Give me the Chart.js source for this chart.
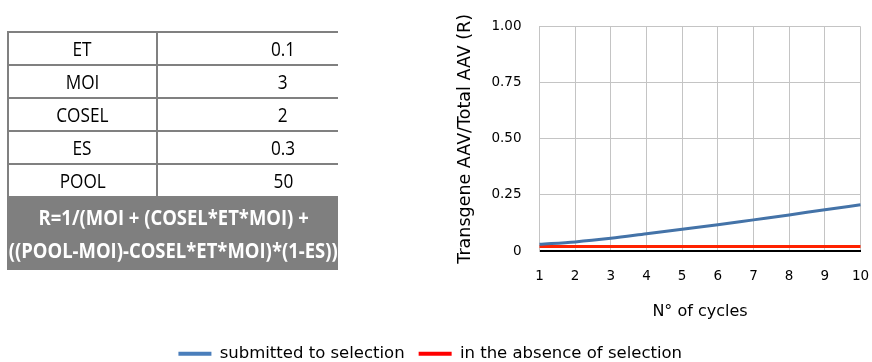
<!DOCTYPE html>
<html>
<head>
<meta charset="utf-8">
<script src="https://cdn.jsdelivr.net/npm/chart.js@4/dist/chart.umd.min.js"></script>
<style>
  html, body { margin: 0; padding: 0; background: #ffffff; }
  #wrap { position: relative; width: 872px; height: 362px; overflow: hidden; }
  #chart { position: absolute; left: 0; top: 0; }
  #params {
    position: absolute; left: 7px; top: 31px; width: 331px;
    border-collapse: collapse; table-layout: fixed;
    font-family: "Open Sans", "Noto Sans", sans-serif;
    font-size: 20px; color: #000;
  }
  #params td {
    border-top: 2px solid #808080; border-bottom: 2px solid #808080;
    height: 31px; padding: 0; text-align: center; line-height: 31px; white-space: nowrap;
  }
  #params td.k { border-left: 2px solid #808080; border-right: 2px solid #808080; width: 147px; }
  #params td.v { padding-left: 70px; }
  #params td.f {
    background: #7f7f7f; color: #fff; font-weight: bold; font-size: 21px;
    line-height: 33.3px; height: 71.7px; border: none; border-left: 2px solid #7f7f7f;
  }
  #params span { display: inline-block; transform: scaleX(0.86); }
  #params .fl { display: flex; justify-content: center; width: 100%; }
</style>
</head>
<body>
<div id="wrap">
  <canvas id="chart" width="872" height="362"></canvas>
  <table id="params"></table>
</div>
<script>
// Model parameters listed in the side table
const paramNames = ['ET', 'MOI', 'COSEL', 'ES', 'POOL'];
const paramValues = ['0.1', '3', '2', '0.3', '50'];
const formulaLines = ['R=1/(MOI + (COSEL*ET*MOI) +', '((POOL-MOI)-COSEL*ET*MOI)*(1-ES))'];

// Chart data
const cycles = ['1', '2', '3', '4', '5', '6', '7', '8', '9', '10'];
const withSelection = [0.030, 0.041, 0.057, 0.077, 0.097, 0.117, 0.139, 0.161, 0.184, 0.206];
const withoutSelection = [0.02, 0.02, 0.02, 0.02, 0.02, 0.02, 0.02, 0.02, 0.02, 0.02];
const yTicks = [0, 0.25, 0.5, 0.75, 1];
const seriesNames = ['submitted to selection', 'in the absence of selection'];

// Build the parameter table
const table = document.getElementById('params');
function cell(cls, text) {
  const td = document.createElement('td');
  td.className = cls;
  const s = document.createElement('span');
  s.textContent = text;
  td.appendChild(s);
  return td;
}
paramNames.forEach((name, i) => {
  const tr = document.createElement('tr');
  tr.appendChild(cell('k', name));
  tr.appendChild(cell('v', paramValues[i]));
  table.appendChild(tr);
});
const fr = document.createElement('tr');
const fc = document.createElement('td');
fc.className = 'f'; fc.colSpan = 2;
const spans = formulaLines.map(line => {
  const row = document.createElement('div');
  row.className = 'fl';
  const s = document.createElement('span');
  s.style.flex = '0 0 auto';
  s.textContent = line;
  row.appendChild(s);
  fc.appendChild(row);
  return s;
});
fr.appendChild(fc); table.appendChild(fr);
// squeeze the formula so its longer line fills the cell width
const widest = Math.max(...spans.map(s => s.getBoundingClientRect().width / 0.86));
const squeeze = 329 / widest;
spans.forEach(s => { s.style.transform = 'scaleX(' + squeeze + ')'; });

const txt = "'DejaVu Sans', Verdana, sans-serif";

new Chart(document.getElementById('chart'), {
  type: 'line',
  data: {
    labels: cycles,
    datasets: [
      { label: seriesNames[0], data: withSelection, borderColor: '#4473a8', backgroundColor: '#4a7ebb',
        borderWidth: 3, pointRadius: 0, cubicInterpolationMode: 'monotone', fill: false },
      { label: seriesNames[1], data: withoutSelection, borderColor: '#ff2200', backgroundColor: '#ff0000',
        borderWidth: 3, pointRadius: 0, tension: 0, fill: false }
    ]
  },
  options: {
    responsive: false,
    animation: false,
    layout: { padding: { top: 26.5, right: 11.5, bottom: -10, left: 0 } },
    plugins: {
      tooltip: { enabled: false },
      legend: {
        position: 'bottom',
        labels: {
          boxWidth: 33, boxHeight: 4, padding: 14, color: '#000',
          font: { family: txt, size: 16.5 },
          generateLabels(chart) {
            return chart.data.datasets.map((ds, i) => ({
              text: ds.label, fillStyle: ds.backgroundColor, strokeStyle: ds.backgroundColor,
              lineWidth: 0, hidden: false, datasetIndex: i
            }));
          }
        }
      }
    },
    scales: {
      x: {
        offset: false,
        grid: { color: '#c4c4c4', lineWidth: 1, drawTicks: true, tickLength: 17, tickColor: 'rgba(0,0,0,0)' },
        border: { color: '#000000', width: 2 },
        ticks: { color: '#000', padding: 0, font: { family: txt, size: 13.5 }, maxRotation: 0 },
        title: { display: true, text: 'N° of cycles', color: '#000',
          font: { family: txt, size: 16 }, padding: { top: 18, bottom: 10 } }
      },
      y: {
        min: 0, max: 1,
        afterBuildTicks(scale) { scale.ticks = yTicks.map(v => ({ value: v })); },
        afterFit(scale) { scale.width = 539.5; },
        grid: { color: '#c4c4c4', lineWidth: 1, drawTicks: true, tickLength: 18, tickColor: 'rgba(0,0,0,0)' },
        border: { color: '#c4c4c4', width: 1 },
        ticks: { color: '#000', padding: 0, font: { family: txt, size: 13.5 },
          callback: v => (v === 0 ? '0' : v.toFixed(2)) },
        title: { display: true, text: 'Transgene AAV/Total AAV (R)', color: '#000',
          font: { family: txt, size: 17.5 }, padding: { top: 455, bottom: 0 } }
      }
    }
  }
});
</script>
</body>
</html>
